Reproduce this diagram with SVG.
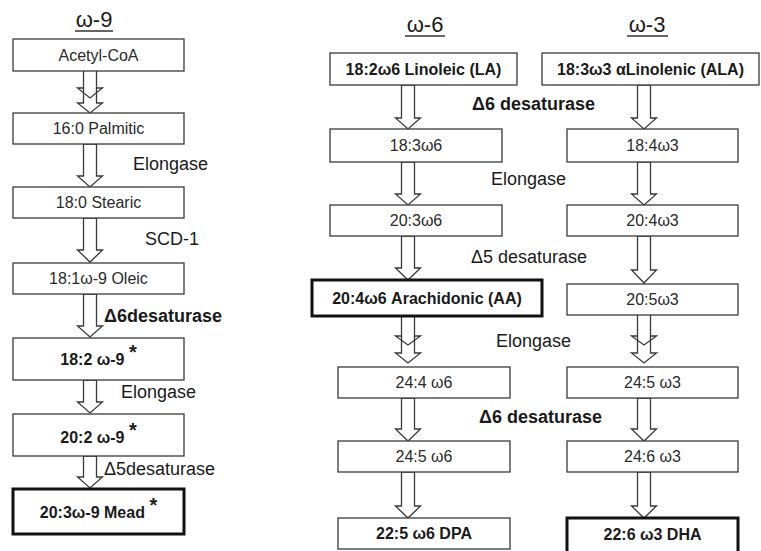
<svg xmlns="http://www.w3.org/2000/svg" width="761" height="551" viewBox="0 0 761 551">
<style>
text{font-family:"Liberation Sans",Arial,sans-serif;fill:#1a1a1a}
.box{fill:#fff;stroke:#3a3a3a;stroke-width:1.3}
.thick{fill:#fff;stroke:#111;stroke-width:3}
.t{font-size:16px;text-anchor:middle;fill:#2a2a2a}
.b{font-size:16px;font-weight:bold;text-anchor:middle}
.enz{font-size:18px}
.enzb{font-size:18px;font-weight:bold}
.title{font-size:22px;text-anchor:middle}
.ul{stroke:#333;stroke-width:1.5}
.arr{fill:#fff;stroke:#3a3a3a;stroke-width:1.3;stroke-linejoin:miter}
.arrd{fill:none;stroke:#3a3a3a;stroke-width:1.3}
.sup{font-size:20px;font-weight:bold}
</style>
<rect width="761" height="551" fill="#fff"/>
<g id="titles">
<text class="title" x="94" y="27">ω-9</text>
<line class="ul" x1="75" y1="31" x2="113" y2="31"/>
<text class="title" x="425" y="32">ω-6</text>
<line class="ul" x1="405" y1="36" x2="445" y2="36"/>
<text class="title" x="647" y="32">ω-3</text>
<line class="ul" x1="627" y1="36" x2="668" y2="36"/>
</g>
<g id="connectors">
<path class="arrd" d="M83.5,71 V88 H77.5 L90,98 L102.5,88 H96.5 V71"/>
<path class="arrd" d="M83.5,88 V103 H77.5 L90,113 L102.5,103 H96.5 V88"/>
<path class="arr" d="M83.5,144 V176 H77.5 L90,187 L102.5,176 H96.5 V144 Z"/>
<path class="arr" d="M83.5,218 V250 H77.5 L90,262 L102.5,250 H96.5 V218 Z"/>
<path class="arr" d="M83.5,294 V326 H77.5 L90,337 L102.5,326 H96.5 V294 Z"/>
<path class="arr" d="M83.5,380 V402 H77.5 L90,413 L102.5,402 H96.5 V380 Z"/>
<path class="arr" d="M83.5,456 V477 H77.5 L90,488 L102.5,477 H96.5 V456 Z"/>
<path class="arr" d="M401.5,85 V118 H395.5 L408,129 L420.5,118 H414.5 V85 Z"/>
<path class="arr" d="M401.5,162 V194 H395.5 L408,205 L420.5,194 H414.5 V162 Z"/>
<path class="arr" d="M401.5,236 V268 H395.5 L408,280 L420.5,268 H414.5 V236 Z"/>
<path class="arrd" d="M401.5,316 V336 H395.5 L408,345 L420.5,336 H414.5 V316"/>
<path class="arrd" d="M401.5,336 V353 H395.5 L408,363 L420.5,353 H414.5 V336"/>
<path class="arr" d="M401.5,398 V429 H395.5 L408,441 L420.5,429 H414.5 V398 Z"/>
<path class="arr" d="M401.5,472 V506 H395.5 L408,518 L420.5,506 H414.5 V472 Z"/>
<path class="arr" d="M637.5,85 V118 H631.5 L644,129 L656.5,118 H650.5 V85 Z"/>
<path class="arr" d="M637.5,162 V194 H631.5 L644,205 L656.5,194 H650.5 V162 Z"/>
<path class="arr" d="M637.5,236 V270 H631.5 L644,283 L656.5,270 H650.5 V236 Z"/>
<path class="arrd" d="M637.5,315 V336 H631.5 L644,345 L656.5,336 H650.5 V315"/>
<path class="arrd" d="M637.5,336 V353 H631.5 L644,363 L656.5,353 H650.5 V336"/>
<path class="arr" d="M637.5,398 V429 H631.5 L644,441 L656.5,429 H650.5 V398 Z"/>
<path class="arr" d="M637.5,472 V506 H631.5 L644,518 L656.5,506 H650.5 V472 Z"/>
</g>
<g id="enzymes">
<text class="enz" x="133" y="170">Elongase</text>
<text class="enz" x="145" y="245">SCD-1</text>
<text class="enzb" x="104" y="322">Δ6desaturase</text>
<text class="enz" x="121" y="398">Elongase</text>
<text class="enz" x="104" y="475">Δ5desaturase</text>
<text class="enzb" x="472" y="110">Δ6 desaturase</text>
<text class="enz" x="491" y="185">Elongase</text>
<text class="enz" x="471" y="263">Δ5 desaturase</text>
<text class="enz" x="496" y="347">Elongase</text>
<text class="enzb" x="479" y="423">Δ6 desaturase</text>
</g>
<g id="n-acetylcoa"><rect class="box" x="13" y="39" width="171" height="32"/><text class="t" x="98.5" y="61">Acetyl-CoA</text></g>
<g id="n-palmitic"><rect class="box" x="13" y="113" width="171" height="31"/><text class="t" x="98.5" y="134">16:0 Palmitic</text></g>
<g id="n-stearic"><rect class="box" x="13" y="187" width="171" height="31"/><text class="t" x="98.5" y="208">18:0 Stearic</text></g>
<g id="n-oleic"><rect class="box" x="13" y="263" width="171" height="31"/><text class="t" x="98.5" y="284">18:1ω-9 Oleic</text></g>
<g id="n-182w9"><rect class="box" x="13" y="338" width="171" height="42"/><text class="b" x="98.5" y="365">18:2 ω-9 <tspan class="sup" dy="-6">*</tspan></text></g>
<g id="n-202w9"><rect class="box" x="13" y="414" width="171" height="42"/><text class="b" x="98.5" y="443">20:2 ω-9 <tspan class="sup" dy="-6">*</tspan></text></g>
<g id="n-mead"><rect class="thick" x="13" y="489" width="171" height="45"/><text class="b" x="98.5" y="518">20:3ω-9 Mead <tspan class="sup" dy="-6">*</tspan></text></g>
<g id="n-la"><rect class="box" x="330" y="53" width="187" height="32"/><text class="b" x="423.5" y="75">18:2ω6 Linoleic (LA)</text></g>
<g id="n-183w6"><rect class="box" x="330" y="129" width="172" height="33"/><text class="t" x="416" y="151">18:3ω6</text></g>
<g id="n-203w6"><rect class="box" x="330" y="205" width="172" height="31"/><text class="t" x="416" y="226">20:3ω6</text></g>
<g id="n-aa"><rect class="thick" x="312" y="280" width="230" height="36"/><text class="b" x="427" y="304">20:4ω6 Arachidonic (AA)</text></g>
<g id="n-244w6"><rect class="box" x="338" y="367" width="172" height="31"/><text class="t" x="424" y="388">24:4 ω6</text></g>
<g id="n-245w6"><rect class="box" x="338" y="441" width="172" height="31"/><text class="t" x="424" y="462">24:5 ω6</text></g>
<g id="n-dpa"><rect class="box" x="338" y="518" width="172" height="31"/><text class="b" x="424" y="539">22:5 ω6 DPA</text></g>
<g id="n-ala"><rect class="box" x="542" y="53" width="217" height="32"/><text class="b" x="650.5" y="75">18:3ω3 αLinolenic (ALA)</text></g>
<g id="n-184w3"><rect class="box" x="567" y="129" width="171" height="33"/><text class="t" x="652.5" y="151">18:4ω3</text></g>
<g id="n-204w3"><rect class="box" x="567" y="205" width="171" height="31"/><text class="t" x="652.5" y="226">20:4ω3</text></g>
<g id="n-205w3"><rect class="box" x="567" y="284" width="171" height="31"/><text class="t" x="652.5" y="305">20:5ω3</text></g>
<g id="n-245w3"><rect class="box" x="567" y="367" width="171" height="31"/><text class="t" x="652.5" y="388">24:5 ω3</text></g>
<g id="n-246w3"><rect class="box" x="567" y="441" width="171" height="31"/><text class="t" x="652.5" y="462">24:6 ω3</text></g>
<g id="n-dha"><rect class="thick" x="567" y="518" width="171" height="35"/><text class="b" x="652.5" y="540">22:6 ω3 DHA</text></g>
</svg>
